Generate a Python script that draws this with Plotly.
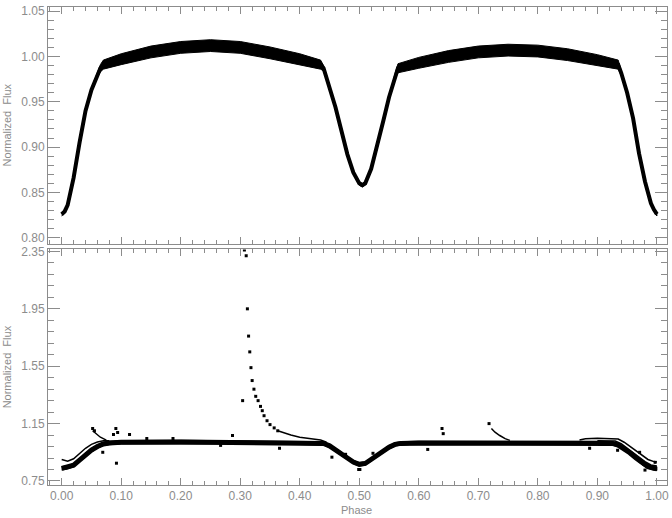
import plotly.graph_objects as go

# ---- top panel: folded light curve (centre of the point band + half width)
TOP_PHASE = [0.000, 0.005, 0.010, 0.015, 0.020, 0.030, 0.040, 0.050, 0.060, 0.065,
             0.070, 0.100, 0.150, 0.200, 0.250, 0.300, 0.350, 0.400, 0.435, 0.440,
             0.450, 0.460, 0.470, 0.480, 0.490, 0.500, 0.505, 0.510, 0.520, 0.530,
             0.540, 0.550, 0.560, 0.565, 0.600, 0.650, 0.700, 0.750, 0.800, 0.850,
             0.900, 0.935, 0.940, 0.950, 0.960, 0.970, 0.980, 0.990, 0.995, 1.000]
TOP_FLUX = [0.826, 0.829, 0.836, 0.849, 0.866, 0.905, 0.940, 0.963, 0.980, 0.987,
            0.991, 0.997, 1.005, 1.010, 1.012, 1.010, 1.004, 0.997, 0.991, 0.987,
            0.966, 0.944, 0.918, 0.892, 0.872, 0.860, 0.858, 0.860, 0.876, 0.900,
            0.928, 0.955, 0.978, 0.987, 0.993, 1.000, 1.005, 1.007, 1.006, 1.002,
            0.996, 0.991, 0.982, 0.960, 0.932, 0.893, 0.862, 0.838, 0.831, 0.826]
TOP_SPREAD = [0.002, 0.002, 0.002, 0.002, 0.002, 0.002, 0.002, 0.002, 0.003, 0.004,
              0.005, 0.006, 0.0065, 0.0065, 0.0065, 0.0065, 0.0065, 0.006, 0.005, 0.003,
              0.002, 0.002, 0.002, 0.002, 0.002, 0.002, 0.002, 0.002, 0.002, 0.002,
              0.002, 0.002, 0.003, 0.005, 0.006, 0.0065, 0.0065, 0.0065, 0.0065, 0.0065,
              0.006, 0.005, 0.003, 0.002, 0.002, 0.002, 0.002, 0.002, 0.002, 0.002]

# ---- bottom panel: main band
BOT_PHASE = [0.000, 0.010, 0.020, 0.030, 0.040, 0.050, 0.060, 0.070, 0.080, 0.100,
             0.200, 0.300, 0.400, 0.440, 0.450, 0.460, 0.470, 0.480, 0.490, 0.500,
             0.510, 0.520, 0.530, 0.540, 0.550, 0.560, 0.570, 0.600, 0.700, 0.800,
             0.900, 0.925, 0.935, 0.945, 0.955, 0.965, 0.975, 0.985, 0.995, 1.000]
BOT_FLUX = [0.838, 0.845, 0.860, 0.895, 0.935, 0.965, 0.990, 1.008, 1.015, 1.020,
            1.022, 1.020, 1.016, 1.012, 0.995, 0.970, 0.940, 0.910, 0.882, 0.866,
            0.872, 0.900, 0.930, 0.960, 0.985, 1.005, 1.012, 1.015, 1.016, 1.016,
            1.015, 1.012, 1.000, 0.975, 0.945, 0.910, 0.875, 0.850, 0.838, 0.835]
BOT_SPREAD = 0.012

# thin secondary tracks in the bottom panel
TRACK_A_PHASE = [0.000, 0.005, 0.010, 0.020, 0.030, 0.040, 0.050, 0.060, 0.070, 0.080]
TRACK_A_FLUX = [0.900, 0.895, 0.888, 0.905, 0.943, 0.978, 1.005, 1.022, 1.030, 1.030]
TRACK_B_PHASE = [0.052, 0.058, 0.065, 0.075]
TRACK_B_FLUX = [1.100, 1.080, 1.055, 1.035]
TRACK_C_PHASE = [0.363, 0.370, 0.385, 0.400, 0.420, 0.435, 0.445]
TRACK_C_FLUX = [1.100, 1.090, 1.070, 1.055, 1.042, 1.035, 1.020]
TRACK_D_PHASE = [0.722, 0.728, 0.736, 0.745, 0.753]
TRACK_D_FLUX = [1.116, 1.090, 1.067, 1.045, 1.033]
TRACK_E_PHASE = [0.870, 0.880, 0.900, 0.920, 0.935, 0.945, 0.955, 0.965, 0.975, 0.985, 0.995, 1.000]
TRACK_E_FLUX = [1.035, 1.044, 1.047, 1.046, 1.042, 1.020, 0.990, 0.955, 0.925, 0.900, 0.885, 0.882]
TRACK_F_PHASE = [0.900, 0.930, 0.940, 0.950, 0.960, 0.970, 0.980, 0.990, 1.000]
TRACK_F_FLUX = [1.030, 1.028, 1.010, 0.980, 0.950, 0.915, 0.885, 0.862, 0.855]

# flare-like excursion near phase 0.31
SPIKE_PHASE = [0.307, 0.310, 0.312, 0.314, 0.316, 0.318, 0.320, 0.323, 0.326, 0.330,
               0.334, 0.337, 0.340, 0.345, 0.350, 0.357, 0.363]
SPIKE_FLUX = [2.360, 2.320, 1.950, 1.760, 1.650, 1.540, 1.450, 1.390, 1.340, 1.310,
              1.270, 1.240, 1.205, 1.170, 1.143, 1.120, 1.100]

# isolated outliers
OUT_PHASE = [0.052, 0.055, 0.069, 0.087, 0.091, 0.094, 0.092, 0.114, 0.143, 0.187,
             0.304, 0.267, 0.287, 0.366, 0.454, 0.477, 0.499, 0.501, 0.523, 0.615,
             0.639, 0.641, 0.718, 0.887, 0.934, 0.971, 0.980, 0.997]
OUT_FLUX = [1.116, 1.100, 0.950, 1.074, 1.116, 1.088, 0.874, 1.074, 1.046, 1.046,
            1.310, 0.998, 1.067, 0.978, 0.916, 0.936, 0.830, 0.830, 0.943, 0.970,
            1.116, 1.080, 1.150, 0.978, 0.964, 0.950, 0.826, 0.880]

GREY = '#8c8c8c'
INK = 'black'

fig = go.Figure()

# top band: filled envelope + centre line
upper = [f + s for f, s in zip(TOP_FLUX, TOP_SPREAD)]
lower = [f - s for f, s in zip(TOP_FLUX, TOP_SPREAD)]
fig.add_trace(go.Scatter(
    x=TOP_PHASE + TOP_PHASE[::-1], y=upper + lower[::-1],
    fill='toself', fillcolor=INK, mode='lines', line=dict(color=INK, width=1),
    xaxis='x', yaxis='y', hoverinfo='skip'))
fig.add_trace(go.Scatter(
    x=TOP_PHASE, y=TOP_FLUX, mode='lines', line=dict(color=INK, width=4),
    xaxis='x', yaxis='y'))

# bottom band
b_up = [f + BOT_SPREAD for f in BOT_FLUX]
b_lo = [f - BOT_SPREAD for f in BOT_FLUX]
fig.add_trace(go.Scatter(
    x=BOT_PHASE + BOT_PHASE[::-1], y=b_up + b_lo[::-1],
    fill='toself', fillcolor=INK, mode='lines', line=dict(color=INK, width=1),
    xaxis='x2', yaxis='y2', hoverinfo='skip'))
fig.add_trace(go.Scatter(
    x=BOT_PHASE, y=BOT_FLUX, mode='lines', line=dict(color=INK, width=5),
    xaxis='x2', yaxis='y2'))

for px, py in [(TRACK_A_PHASE, TRACK_A_FLUX), (TRACK_B_PHASE, TRACK_B_FLUX),
               (TRACK_C_PHASE, TRACK_C_FLUX), (TRACK_D_PHASE, TRACK_D_FLUX),
               (TRACK_E_PHASE, TRACK_E_FLUX), (TRACK_F_PHASE, TRACK_F_FLUX)]:
    fig.add_trace(go.Scatter(x=px, y=py, mode='lines', line=dict(color=INK, width=1.5),
                             xaxis='x2', yaxis='y2'))

fig.add_trace(go.Scatter(
    x=SPIKE_PHASE, y=SPIKE_FLUX, mode='markers',
    marker=dict(symbol='square', size=3, color=INK), xaxis='x2', yaxis='y2'))
fig.add_trace(go.Scatter(
    x=OUT_PHASE, y=OUT_FLUX, mode='markers',
    marker=dict(symbol='square', size=3, color=INK), xaxis='x2', yaxis='y2'))

tick_font = dict(family='Liberation Sans', size=12, color=GREY)
x_common = dict(range=[-0.023, 1.017], showgrid=False, zeroline=False, showline=True,
                linecolor=GREY, linewidth=1, mirror='ticks', ticks='inside',
                tick0=0, dtick=0.1, ticklen=7, tickcolor=GREY, tickfont=tick_font,
                tickformat='.2f',
                minor=dict(ticks='inside', ticklen=4, dtick=0.02, tick0=0, tickcolor=GREY))
y_common = dict(showgrid=False, zeroline=False, showline=True, linecolor=GREY,
                linewidth=1, mirror='ticks', ticks='inside', ticklen=12,
                tickcolor=GREY, tickfont=tick_font, tickformat='.2f')

fig.update_layout(
    width=672, height=518,
    margin=dict(l=48, r=5, t=2, b=33),
    paper_bgcolor='white', plot_bgcolor='white',
    showlegend=False,
    xaxis=dict(x_common, anchor='y', showticklabels=False),
    xaxis2=dict(x_common, anchor='y2'),
    yaxis=dict(y_common, domain=[0.5052, 1.0], anchor='x', range=[0.7936, 1.0546],
               tick0=0.80, dtick=0.05,
               minor=dict(ticks='inside', ticklen=6, dtick=0.01, tick0=0.80, tickcolor=GREY)),
    yaxis2=dict(y_common, domain=[0.0, 0.4928], anchor='x2', range=[0.722, 2.364],
                tick0=0.75, dtick=0.4,
                minor=dict(ticks='inside', ticklen=6, dtick=0.08, tick0=0.75, tickcolor=GREY)),
)

title_font = dict(family='Liberation Sans', size=11, color=GREY)
for yc in [0.7526, 0.2464]:
    fig.add_annotation(text='Normalized\u00a0 Flux', xref='paper', yref='paper',
                       x=-0.066, y=yc, textangle=-90, showarrow=False,
                       xanchor='center', yanchor='middle', font=title_font)
fig.add_annotation(text='Phase', xref='paper', yref='paper', x=0.498, y=-0.052,
                   showarrow=False, xanchor='center', yanchor='middle', font=title_font)

# page body margin would push the fixed-size figure off the window
fig.write_html("out.html", config={'displayModeBar': False},
               post_script="document.body.style.margin='0';")
